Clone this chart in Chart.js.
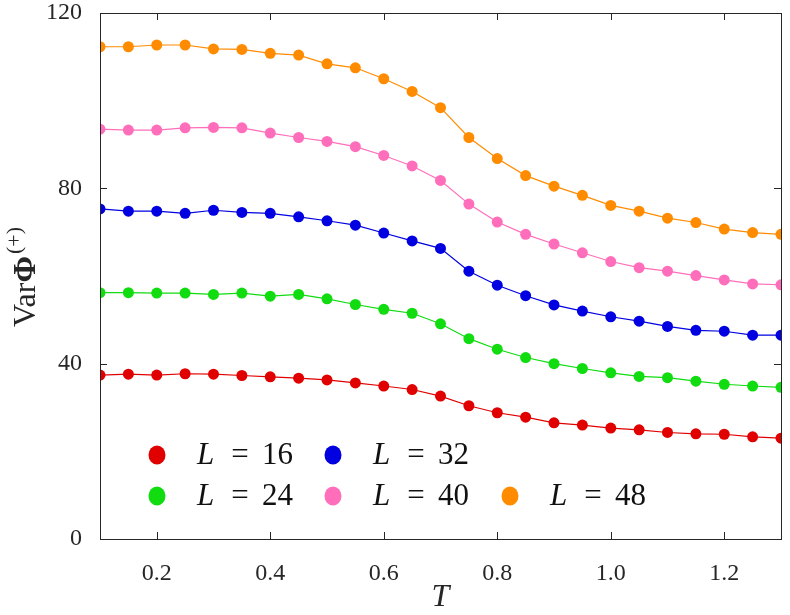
<!DOCTYPE html>
<html>
<head>
<meta charset="utf-8">
<script src="https://cdn.jsdelivr.net/npm/chart.js@4"></script>
<style>
  html, body { margin: 0; padding: 0; background: #fff; }
  #wrap { width: 790px; height: 615px; }
</style>
</head>
<body>
<div id="wrap"><canvas id="chart"></canvas></div>
<script>
// Data
const temps = [0.1, 0.15, 0.2, 0.25, 0.3, 0.35, 0.4, 0.45, 0.5, 0.55, 0.6, 0.65, 0.7,
  0.75, 0.8, 0.85, 0.9, 0.95, 1.0, 1.05, 1.1, 1.15, 1.2, 1.25, 1.3];
const sizes = [16, 24, 32, 40, 48];
const varL16 = [37.4, 37.6, 37.4, 37.7, 37.6, 37.3, 37.0, 36.7, 36.3, 35.6, 34.9, 34.1, 32.6,
  30.4, 28.8, 27.8, 26.5, 26.0, 25.3, 24.9, 24.3, 24.0, 23.9, 23.3, 23.0];
const varL24 = [56.2, 56.2, 56.1, 56.1, 55.8, 56.1, 55.4, 55.8, 54.8, 53.5, 52.4, 51.5, 49.1,
  45.7, 43.3, 41.4, 40.0, 38.9, 37.9, 37.1, 36.8, 36.0, 35.3, 34.9, 34.6];
const varL32 = [75.3, 74.8, 74.8, 74.3, 75.0, 74.5, 74.3, 73.5, 72.6, 71.6, 69.8, 68.0, 66.3,
  61.1, 57.9, 55.5, 53.4, 52.0, 50.7, 49.7, 48.5, 47.6, 47.4, 46.5, 46.5];
const varL40 = [93.5, 93.3, 93.3, 93.8, 93.9, 93.8, 92.6, 91.6, 90.7, 89.5, 87.5, 85.1, 81.8,
  76.4, 72.3, 69.5, 67.3, 65.3, 63.3, 61.9, 61.1, 60.1, 59.1, 58.2, 58.0];
const varL48 = [112.3, 112.3, 112.7, 112.7, 111.8, 111.7, 110.8, 110.4, 108.4, 107.5, 105.0, 102.1, 98.4,
  91.6, 86.8, 82.9, 80.5, 78.4, 76.1, 74.8, 73.2, 72.2, 70.7, 69.9, 69.5];
const seriesValues = [varL16, varL24, varL32, varL40, varL48];
const colors = ["#e00000", "#10dc10", "#0000e0", "#ff6ebb", "#ff8c00"];
const xTicks = [0.2, 0.4, 0.6, 0.8, 1.0, 1.2];
const yTicks = [0, 40, 80, 120];

const SERIF = "'Liberation Serif', 'DejaVu Serif', serif";
const INK = "#262626";

// Box, inward ticks, axis titles and legend
const framePlugin = {
  id: "frame",
  afterDraw(chart) {
    const ctx = chart.ctx;
    const a = chart.chartArea;
    const xs = chart.scales.x, ys = chart.scales.y;
    ctx.save();
    ctx.strokeStyle = INK;
    ctx.lineWidth = 1;
    ctx.strokeRect(a.left + 0.5, a.top + 0.5, a.right - a.left, a.bottom - a.top);
    const len = 7;
    ctx.beginPath();
    xTicks.forEach((v) => {
      const px = Math.round(xs.getPixelForValue(v)) + 0.5;
      ctx.moveTo(px, a.bottom); ctx.lineTo(px, a.bottom - len);
      ctx.moveTo(px, a.top); ctx.lineTo(px, a.top + len);
    });
    yTicks.forEach((v) => {
      const py = Math.round(ys.getPixelForValue(v)) + 0.5;
      ctx.moveTo(a.left, py); ctx.lineTo(a.left + len, py);
      ctx.moveTo(a.right, py); ctx.lineTo(a.right - len, py);
    });
    ctx.stroke();

    // x title
    ctx.fillStyle = INK;
    ctx.font = "italic 32px " + SERIF;
    ctx.textAlign = "center";
    ctx.textBaseline = "middle";
    ctx.fillText("T", (a.left + a.right) / 2, 598);

    // y title: Var Φ^(+)
    ctx.save();
    ctx.translate(25, 277);
    ctx.rotate(-Math.PI / 2);
    ctx.textBaseline = "alphabetic";
    ctx.textAlign = "left";
    const p1 = "Var", p2 = "\u03A6", p3 = "(+)";
    ctx.font = "32px " + SERIF;
    const w1 = ctx.measureText(p1).width;
    ctx.font = "bold 32px " + SERIF;
    const w2 = ctx.measureText(p2).width;
    ctx.font = "22px " + SERIF;
    const w3 = ctx.measureText(p3).width;
    const x0 = -(w1 + w2 + w3 + 2) / 2;
    ctx.font = "32px " + SERIF;
    ctx.fillText(p1, x0, 10);
    ctx.font = "bold 32px " + SERIF;
    ctx.fillText(p2, x0 + w1, 10);
    ctx.font = "22px " + SERIF;
    ctx.fillText(p3, x0 + w1 + w2 + 2, -4);
    ctx.restore();

    // legend: two rows, column-major
    const slots = [
      [57, 84], [57, 43], [233, 84], [233, 43], [410, 43]
    ];
    chart.data.datasets.forEach((ds, i) => {
      const cx = a.left + slots[i][0];
      const cy = a.bottom - slots[i][1];
      ctx.fillStyle = ds.backgroundColor;
      ctx.beginPath();
      ctx.ellipse(cx, cy, 8.5, 9.5, 0, 0, Math.PI * 2);
      ctx.fill();
      ctx.fillStyle = "#111";
      ctx.textBaseline = "middle";
      ctx.font = "italic 31px " + SERIF;
      ctx.textAlign = "left";
      ctx.fillText("L", cx + 40, cy + 1);
      ctx.font = "31px " + SERIF;
      ctx.textAlign = "center";
      ctx.fillText("=", cx + 83, cy + 1);
      ctx.textAlign = "left";
      ctx.fillText(String(sizes[i]), cx + 105, cy + 1);
    });
    ctx.restore();
  },
};

const datasets = sizes.map((L, i) => ({
  label: "L = " + L,
  data: temps.map((t, j) => ({ x: t, y: seriesValues[i][j] })),
  borderColor: colors[i],
  backgroundColor: colors[i],
  borderWidth: 1.2,
  pointRadius: 5.5,
  pointBorderWidth: 0,
  pointHoverRadius: 5.5,
  showLine: true,
  tension: 0,
}));

const ctx = document.getElementById("chart").getContext("2d");
new Chart(ctx, {
  type: "scatter",
  data: { datasets },
  options: {
    responsive: true,
    maintainAspectRatio: false,
    animation: false,
    layout: { padding: { top: 13, right: 9, left: 0, bottom: 0 } },
    plugins: { legend: { display: false }, tooltip: { enabled: false } },
    scales: {
      x: {
        type: "linear",
        min: 0.1,
        max: 1.3,
        grid: { display: false },
        border: { display: false },
        afterBuildTicks: (scale) => {
          scale.ticks = xTicks.map((v) => ({ value: v }));
        },
        afterFit: (scale) => {
          scale.height = 76;
          scale.paddingLeft = 0;
          scale.paddingRight = 0;
        },
        ticks: {
          padding: 12,
          color: INK,
          font: { family: SERIF, size: 24 },
          maxRotation: 0,
          callback: (v) => Number(v).toFixed(1),
        },
      },
      y: {
        min: 0,
        max: 120,
        grid: { display: false },
        border: { display: false },
        afterBuildTicks: (scale) => {
          scale.ticks = yTicks.map((v) => ({ value: v }));
        },
        afterFit: (scale) => {
          scale.width = 100;
          scale.paddingTop = 0;
          scale.paddingBottom = 0;
        },
        ticks: {
          padding: 10,
          color: INK,
          font: { family: SERIF, size: 24 },
        },
      },
    },
  },
  plugins: [framePlugin],
});
</script>
</body>
</html>
